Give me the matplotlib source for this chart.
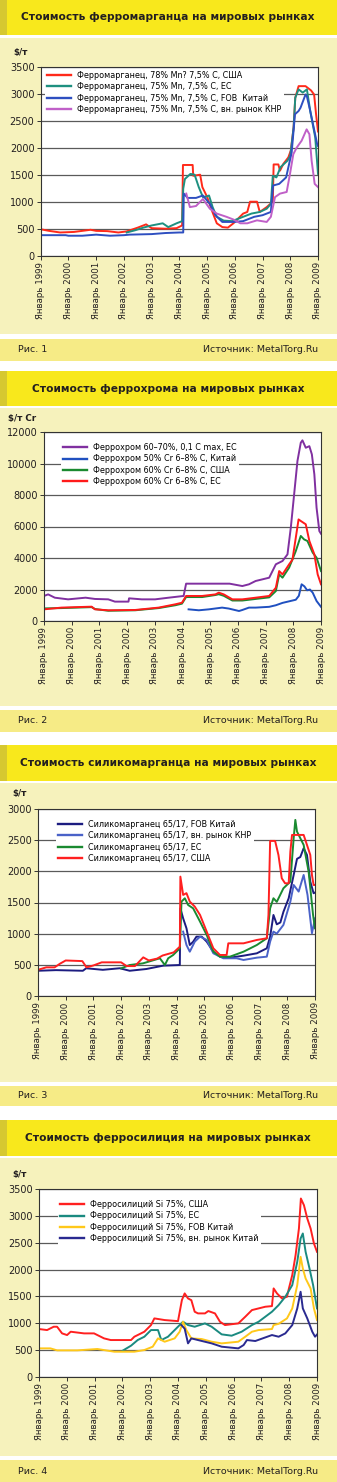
import matplotlib
matplotlib.use("Agg")
import matplotlib.pyplot as plt
from matplotlib.patches import Rectangle

W, H = 337, 1482
fig = plt.figure(figsize=(W / 100, H / 100), dpi=100)
fig.patch.set_facecolor("white")

TITLE_Y = "#F8E81C"
STRIP = "#D6C830"
BG_Y = "#F6F2BC"
FOOT_Y = "#F6EB86"
INK = "#231F20"

YEARS = list(range(1999, 2010))
XLABELS = [f"Январь {y}" for y in YEARS]

# ---------------- Рис. 1: ферромарганец ----------------
fm_us_x = [1999.0, 1999.3, 1999.7, 2000.2, 2000.8, 2001.0, 2001.4, 2001.8, 2002.1, 2002.5,
           2002.8, 2003.0, 2003.5, 2003.9, 2004.1, 2004.13, 2004.48, 2004.5, 2004.75, 2004.83,
           2005.0, 2005.2, 2005.35, 2005.55, 2005.75, 2005.95, 2006.3, 2006.45, 2006.55, 2006.8,
           2006.9, 2007.15, 2007.37, 2007.4, 2007.57, 2007.63, 2007.75, 2007.93, 2008.02, 2008.12,
           2008.18, 2008.3, 2008.55, 2008.75, 2008.86, 2008.93, 2009.0]
fm_us_y = [490, 460, 430, 440, 480, 460, 455, 430, 450, 520,
           580, 510, 500, 510, 560, 1680, 1680, 1480, 1500, 1270,
           1090, 800, 600, 530, 520, 600, 780, 810, 1000, 1000,
           810, 900, 1000, 1690, 1690, 1575, 1700, 1820, 1950, 2370,
           2925, 3140, 3140, 3060, 2985, 2620, 2300]
fm_eu_x = [2002.1, 2002.4, 2002.7, 2003.0, 2003.4, 2003.6, 2003.9, 2004.1, 2004.14, 2004.2,
           2004.4, 2004.55, 2004.7, 2004.85, 2005.0, 2005.07, 2005.2, 2005.35, 2005.6, 2005.9,
           2006.3, 2006.6, 2006.9, 2007.15, 2007.3, 2007.37, 2007.5, 2007.65, 2007.9, 2008.0,
           2008.12, 2008.18, 2008.3, 2008.45, 2008.6, 2008.72, 2008.9, 2009.0]
fm_eu_y = [430, 470, 520, 560, 600, 530, 600, 640, 1240, 1420,
           1515, 1500, 1270, 1085, 1100, 1115, 900, 720, 650, 640,
           720, 780, 810, 870, 960, 1480, 1450, 1640, 1760, 1850,
           2370, 2925, 3080, 3020, 3080, 2680, 2190, 1515]
fm_fob_x = [1999.0, 1999.9, 2000.0, 2000.5, 2001.0, 2001.5, 2002.0, 2002.2, 2003.0, 2003.5,
            2004.0, 2004.14, 2004.16, 2004.3, 2004.6, 2004.85, 2005.1, 2005.3, 2005.55, 2005.95,
            2006.3, 2006.7, 2007.0, 2007.3, 2007.38, 2007.6, 2007.85, 2008.05, 2008.17, 2008.3,
            2008.37, 2008.55, 2008.6, 2008.72, 2008.97, 2009.0]
fm_fob_y = [380, 380, 370, 370, 390, 370, 380, 390, 400, 420,
            430, 430, 1150, 1070, 1070, 1115, 960, 750, 625, 625,
            640, 720, 750, 810, 1300, 1330, 1450, 1910, 2620, 2680,
            2740, 2985, 2950, 2680, 2065, 2030]
fm_cn_x = [2004.25, 2004.38, 2004.6, 2004.85, 2005.1, 2005.35, 2005.7, 2005.95, 2006.2, 2006.45,
           2006.8, 2007.15, 2007.3, 2007.45, 2007.63, 2007.87, 2007.99, 2008.11, 2008.23, 2008.41,
           2008.59, 2008.69, 2008.77, 2008.88, 2009.0]
fm_cn_y = [1150, 900, 920, 1050, 870, 780, 720, 670, 600, 600,
           655, 625, 720, 1085, 1150, 1180, 1515, 1880, 2000, 2130,
           2340, 2250, 1760, 1330, 1270]

# ---------------- Рис. 2: феррохром ----------------
fc_lc_x = [1999.0, 1999.15, 1999.39, 1999.87, 2000.5, 2000.84, 2001.32, 2001.56, 2002.05, 2002.07,
           2002.53, 2003.01, 2003.5, 2004.04, 2004.13, 2005.0, 2005.7, 2006.16, 2006.4, 2006.64,
           2007.13, 2007.37, 2007.61, 2007.79, 2007.91, 2008.03, 2008.15, 2008.27, 2008.33, 2008.45,
           2008.58, 2008.67, 2008.76, 2008.84, 2008.94, 2009.0]
fc_lc_y = [1590, 1690, 1480, 1375, 1480, 1400, 1375, 1230, 1230, 1440,
           1375, 1375, 1480, 1590, 2370, 2370, 2370, 2220, 2330, 2540,
           2750, 3600, 3810, 4230, 5925, 8040, 10160, 11320, 11470, 11000,
           11100, 10580, 9310, 7190, 5710, 5540]
fc_cn_x = [2004.22, 2004.59, 2004.95, 2005.43, 2005.67, 2006.04, 2006.16, 2006.4, 2006.64, 2007.13,
           2007.37, 2007.61, 2007.85, 2008.09, 2008.2, 2008.3, 2008.4, 2008.5, 2008.6, 2008.7,
           2008.84, 2009.0]
fc_cn_y = [740, 680, 740, 850, 790, 635, 700, 850, 850, 900,
           1000, 1150, 1250, 1350, 1600, 2330, 2200, 1950, 2000, 1800,
           1270, 900]
fc_us_x = [1999.0, 1999.63, 2000.72, 2000.84, 2001.32, 2002.29, 2003.14, 2003.74, 2003.98, 2004.13,
           2004.71, 2005.19, 2005.31, 2005.49, 2005.8, 2006.16, 2006.64, 2007.13, 2007.37, 2007.49,
           2007.61, 2007.85, 2008.09, 2008.27, 2008.39, 2008.51, 2008.7, 2008.84, 2009.0]
fc_us_y = [800, 820, 880, 760, 650, 680, 820, 1000, 1100, 1520,
           1520, 1650, 1700, 1600, 1300, 1300, 1400, 1500, 1900, 2960,
           2750, 3390, 4440, 5400, 5180, 5080, 4340, 4020, 3170]
fc_eu_x = [1999.0, 1999.63, 2000.72, 2000.84, 2001.32, 2002.29, 2003.14, 2003.74, 2003.98, 2004.13,
           2004.71, 2005.19, 2005.31, 2005.49, 2005.8, 2006.16, 2006.64, 2007.13, 2007.37, 2007.49,
           2007.61, 2007.85, 2007.97, 2008.09, 2008.19, 2008.27, 2008.45, 2008.58, 2008.76, 2008.88,
           2009.0]
fc_eu_y = [740, 850, 910, 740, 680, 700, 850, 1060, 1160, 1590,
           1590, 1690, 1800, 1690, 1375, 1375, 1480, 1590, 2115, 3170,
           2960, 3600, 3900, 5290, 6450, 6350, 6140, 5080, 4230, 2960,
           2330]

# ---------------- Рис. 3: силикомарганец ----------------
sm_fob_x = [1999.0, 1999.65, 2000.62, 2000.74, 2001.34, 2001.95, 2002.31, 2002.91, 2003.52, 2004.12,
            2004.14, 2004.24, 2004.36, 2004.48, 2004.6, 2004.72, 2004.91, 2005.09, 2005.33, 2005.57,
            2005.93, 2006.42, 2006.9, 2007.26, 2007.38, 2007.5, 2007.62, 2007.75, 2007.86, 2008.05,
            2008.23, 2008.35, 2008.47, 2008.59, 2008.71, 2008.83, 2008.95, 2009.0]
sm_fob_y = [405, 415, 405, 445, 420, 445, 405, 433, 487, 497,
            1407, 1246, 1086, 818, 870, 952, 952, 872, 711, 631,
            615, 647, 685, 765, 952, 1300, 1150, 1180, 1350, 1568,
            1942, 2200, 2230, 2370, 2263, 1835, 1648, 1660]
sm_cn_x = [2004.24, 2004.36, 2004.48, 2004.66, 2004.85, 2005.09, 2005.33, 2005.69, 2006.17, 2006.42,
           2006.9, 2007.26, 2007.38, 2007.5, 2007.62, 2007.86, 2008.11, 2008.23, 2008.41, 2008.59,
           2008.73, 2008.89, 2009.0]
sm_cn_y = [1033, 818, 711, 872, 952, 900, 685, 605, 605, 578,
           615, 631, 872, 1033, 1000, 1140, 1514, 1781, 1675, 1942,
           1621, 1006, 1246]
sm_eu_x = [2002.01, 2002.31, 2002.79, 2003.4, 2003.58, 2003.7, 2003.88, 2004.12, 2004.18, 2004.3,
           2004.42, 2004.6, 2004.85, 2005.09, 2005.33, 2005.57, 2005.93, 2006.42, 2006.9, 2007.26,
           2007.38, 2007.5, 2007.62, 2007.86, 2008.11, 2008.23, 2008.29, 2008.35, 2008.47, 2008.59,
           2008.77, 2008.93, 2009.0]
sm_eu_y = [445, 497, 524, 605, 497, 605, 658, 765, 1514, 1568,
           1460, 1407, 1193, 979, 711, 631, 631, 711, 818, 926,
           1407, 1568, 1510, 1728, 1835, 2531, 2825, 2638, 2531, 2424,
           1996, 1300, 1086]
sm_us_x = [1999.0, 1999.3, 1999.6, 1999.8, 2000.0, 2000.6, 2000.75, 2001.0, 2001.3, 2002.0,
           2002.2, 2002.5, 2002.8, 2003.0, 2003.3, 2003.5, 2003.9, 2004.12, 2004.14, 2004.24,
           2004.36, 2004.48, 2004.66, 2004.85, 2005.09, 2005.33, 2005.57, 2005.81, 2005.87, 2006.42,
           2006.9, 2007.26, 2007.32, 2007.38, 2007.56, 2007.68, 2007.8, 2007.92, 2008.05, 2008.11,
           2008.17, 2008.59, 2008.71, 2008.83, 2008.89, 2008.95, 2009.0]
sm_us_y = [420, 460, 460, 520, 570, 560, 460, 490, 540, 540,
           480, 480, 620, 570, 600, 650, 700, 791, 1915, 1621,
           1650, 1514, 1434, 1300, 1033, 765, 658, 658, 845, 845,
           899, 926, 1300, 2488, 2488, 2263, 1889, 1808, 1808, 2317,
           2584, 2584, 2424, 2263, 1942, 1781, 1781]

# ---------------- Рис. 4: ферросилиций ----------------
fs_us_x = [1999.0, 1999.29, 1999.53, 1999.65, 1999.83, 2000.01, 2000.14, 2000.62, 2000.98, 2001.34,
           2001.58, 2002.31, 2002.43, 2002.79, 2003.03, 2003.15, 2003.52, 2004.0, 2004.14, 2004.24,
           2004.36, 2004.48, 2004.6, 2004.72, 2004.97, 2005.09, 2005.33, 2005.51, 2005.69, 2006.17,
           2006.42, 2006.66, 2007.14, 2007.38, 2007.44, 2007.56, 2007.74, 2007.92, 2007.99, 2008.11,
           2008.23, 2008.35, 2008.42, 2008.53, 2008.65, 2008.77, 2008.89, 2009.0]
fs_us_y = [893, 874, 936, 936, 812, 781, 843, 812, 812, 719,
           688, 688, 750, 843, 967, 1091, 1060, 1040, 1432, 1556,
           1463, 1430, 1215, 1184, 1184, 1228, 1184, 1029, 967, 998,
           1122, 1246, 1308, 1320, 1649, 1556, 1463, 1494, 1649, 1897,
           2269, 2765, 3323, 3199, 2951, 2765, 2486, 2331]
fs_eu_x = [2002.01, 2002.31, 2002.55, 2002.79, 2003.03, 2003.28, 2003.4, 2003.64, 2003.88, 2004.06,
           2004.18, 2004.36, 2004.6, 2004.97, 2005.21, 2005.57, 2005.93, 2006.29, 2006.66, 2006.9,
           2007.14, 2007.38, 2007.62, 2007.86, 2008.11, 2008.29, 2008.41, 2008.49, 2008.59, 2008.73,
           2008.86, 2009.0]
fs_eu_y = [490, 583, 688, 750, 874, 874, 688, 750, 874, 967,
           1029, 967, 936, 998, 936, 794, 769, 843, 967, 1029,
           1122, 1215, 1339, 1494, 1711, 2145, 2579, 2672, 2331, 2021,
           1711, 1277]
fs_fob_x = [1999.0, 1999.41, 1999.65, 2000.38, 2001.1, 2001.71, 2002.43, 2002.79, 2003.09, 2003.28,
            2003.52, 2003.88, 2004.06, 2004.18, 2004.3, 2004.48, 2004.85, 2005.21, 2005.57, 2006.17,
            2006.42, 2006.66, 2006.9, 2007.38, 2007.44, 2007.62, 2007.92, 2008.11, 2008.29, 2008.41,
            2008.49, 2008.59, 2008.77, 2008.89, 2009.0]
fs_fob_y = [533, 533, 496, 496, 521, 471, 471, 502, 564, 719,
            657, 719, 843, 1029, 874, 719, 707, 657, 626, 657,
            750, 843, 874, 893, 967, 990, 1091, 1277, 1711, 2238,
            2021, 1835, 1649, 1277, 1060]
fs_cn_x = [2004.12, 2004.24, 2004.36, 2004.48, 2004.72, 2005.21, 2005.57, 2006.17, 2006.36, 2006.48,
           2006.78, 2007.38, 2007.62, 2007.86, 2008.11, 2008.29, 2008.41, 2008.49, 2008.65, 2008.83,
           2008.93, 2009.0]
fs_cn_y = [967, 900, 626, 719, 688, 626, 564, 533, 595, 688,
           670, 781, 750, 812, 967, 1277, 1587, 1277, 1091, 843,
           750, 790]


def fx(px):
    return px / W


def fy(py):
    return 1 - py / H


def band(y0, y1, color, x0=0, x1=W):
    fig.patches.append(Rectangle((fx(x0), fy(y1)), fx(x1) - fx(x0), fy(y0) - fy(y1),
                                 transform=fig.transFigure, facecolor=color,
                                 edgecolor="none", zorder=-10))


def panel(num, title, unit, title_box, bg_box, foot_box, ax_box, unit_xy,
          series, yticks, leg_anchor):
    band(*title_box, TITLE_Y)
    band(*title_box, STRIP, x0=0, x1=7)
    band(*bg_box, BG_Y)
    band(*foot_box, FOOT_Y)
    fig.text(fx(168), fy(sum(title_box) / 2), title, ha="center", va="center",
             fontsize=7.7, fontweight="bold", color=INK)
    fig.text(fx(unit_xy[0]), fy(unit_xy[1]), unit, ha="left", va="center",
             fontsize=6.3, fontweight="bold", color=INK)
    fy_mid = fy(sum(foot_box) / 2)
    fig.text(fx(18), fy_mid, f"Рис. {num}", ha="left", va="center", fontsize=6.8, color=INK)
    fig.text(fx(318), fy_mid, "Источник: MetalTorg.Ru", ha="right", va="center",
             fontsize=6.8, color=INK)

    l, t, r, b = ax_box
    ax = fig.add_axes([fx(l), fy(b), fx(r) - fx(l), fy(t) - fy(b)])
    ax.set_zorder(5)
    ax.set_facecolor("white")
    for xs, ys, color, label in series:
        ax.plot(xs, ys, color=color, lw=1.4, label=label)
    ax.set_xlim(1999, 2009)
    ax.set_ylim(yticks[0], yticks[-1])
    ax.set_yticks(yticks)
    ax.set_yticklabels([str(v) for v in yticks], fontsize=7, color=INK)
    ax.set_xticks(YEARS)
    ax.set_xticklabels(XLABELS, rotation=90, fontsize=6.2, color=INK)
    ax.yaxis.grid(True, color="#5A5A5A", lw=0.9)
    ax.set_axisbelow(True)
    ax.tick_params(axis="both", direction="out", length=3, width=0.7, pad=1.5, color="#333333")
    for s in ax.spines.values():
        s.set_color("#333333")
        s.set_linewidth(0.8)
    leg = ax.legend(loc="upper left", bbox_to_anchor=leg_anchor, fontsize=5.8,
                    frameon=True, fancybox=False, framealpha=1, facecolor="white",
                    edgecolor="none", handlelength=3.0, handletextpad=0.75,
                    labelspacing=0.28, borderpad=0.3, borderaxespad=0)
    for h in leg.get_lines():
        h.set_linewidth(1.7)
    return ax


panel(1, "Стоимость ферромарганца на мировых рынках", "$/т",
      (0, 35), (37.5, 334), (339, 360.7), (40.7, 66.7, 318, 255.7), (13, 52),
      [(fm_us_x, fm_us_y, "#FF2A1A", "Ферромарганец, 78% Mn? 7,5% C, США"),
       (fm_eu_x, fm_eu_y, "#1E9080", "Ферромарганец, 75% Mn, 7,5% C, ЕС"),
       (fm_fob_x, fm_fob_y, "#2E4FC0", "Ферромарганец, 75% Mn, 7,5% C, FOB  Китай"),
       (fm_cn_x, fm_cn_y, "#C060C8", "Ферромарганец, 75% Mn, 7,5% C, вн. рынок КНР")],
      list(range(0, 3501, 500)), (0.014, 0.99))

panel(2, "Стоимость феррохрома на мировых рынках", "$/т Cr",
      (371, 406), (408, 706), (710, 731.7), (44, 432, 321, 621), (8, 418),
      [(fc_lc_x, fc_lc_y, "#8030A0", "Феррохром 60–70%, 0,1 C max, ЕС"),
       (fc_cn_x, fc_cn_y, "#2050C0", "Феррохром 50% Cr 6–8% C, Китай"),
       (fc_us_x, fc_us_y, "#1A8A30", "Феррохром 60% Cr 6–8% C, США"),
       (fc_eu_x, fc_eu_y, "#FF1A1A", "Феррохром 60% Cr 6–8% C, ЕС")],
      list(range(0, 12001, 2000)), (0.06, 0.954))

panel(3, "Стоимость силикомарганца на мировых рынках", "$/т",
      (745, 781), (783, 1082), (1085.5, 1105.7), (38, 809, 315, 996), (12, 794),
      [(sm_fob_x, sm_fob_y, "#1C1C80", "Силикомарганец 65/17, FOB Китай"),
       (sm_cn_x, sm_cn_y, "#4A62C8", "Силикомарганец 65/17, вн. рынок КНР"),
       (sm_eu_x, sm_eu_y, "#1A8A30", "Силикомарганец 65/17, ЕС"),
       (sm_us_x, sm_us_y, "#FF2020", "Силикомарганец 65/17, США")],
      list(range(0, 3001, 500)), (0.064, 0.954))

panel(4, "Стоимость ферросилиция на мировых рынках", "$/т",
      (1120, 1156), (1158, 1456), (1460, 1482), (39, 1189, 317, 1377), (12, 1174),
      [(fs_us_x, fs_us_y, "#FF2020", "Ферросилиций Si 75%, США"),
       (fs_eu_x, fs_eu_y, "#1A8A80", "Ферросилиций Si 75%, ЕС"),
       (fs_fob_x, fs_fob_y, "#FFC81A", "Ферросилиций Si 75%, FOB Китай"),
       (fs_cn_x, fs_cn_y, "#2A2A90", "Ферросилиций Si 75%, вн. рынок Китай")],
      list(range(0, 3501, 500)), (0.067, 0.954))

fig.savefig("out.png", dpi=100)
